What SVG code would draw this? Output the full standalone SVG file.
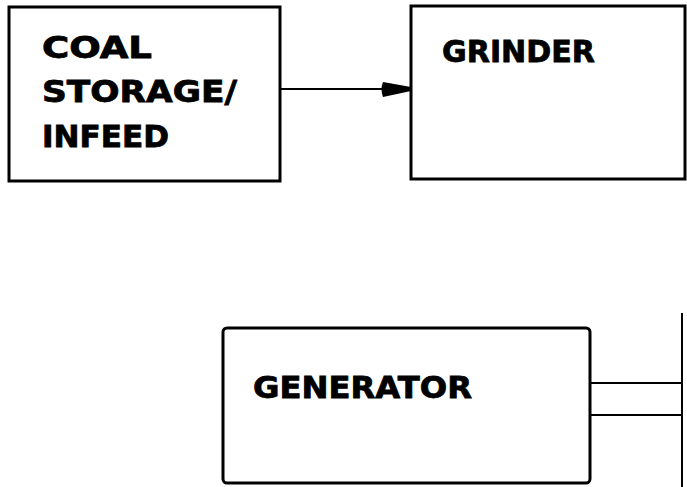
<svg xmlns="http://www.w3.org/2000/svg" width="687" height="487" viewBox="0 0 687 487">
<style>
.box{fill:#fff;stroke:#000;stroke-width:3}
.lbl{font-family:"DejaVu Sans","Liberation Sans",sans-serif;font-weight:bold;font-size:30px;fill:#000;stroke:#000;stroke-width:0.8}
.ln{stroke:#000;stroke-width:2;fill:none}
</style>
<rect width="687" height="487" fill="#fff"/>
<g id="coal">
<rect class="box" x="9" y="7" width="271" height="174"/>
<text class="lbl" x="42" y="58" textLength="110" lengthAdjust="spacingAndGlyphs">COAL</text>
<text class="lbl" x="42" y="102" textLength="195" lengthAdjust="spacingAndGlyphs">STORAGE/</text>
<text class="lbl" x="42" y="147" textLength="127" lengthAdjust="spacingAndGlyphs">INFEED</text>
</g>
<g id="grinder">
<rect class="box" x="411" y="6" width="274" height="173"/>
<text class="lbl" x="442" y="62" textLength="153" lengthAdjust="spacingAndGlyphs">GRINDER</text>
</g>
<g id="generator">
<rect class="box" x="223" y="328" width="367" height="155" rx="4"/>
<text class="lbl" x="253" y="398" textLength="219" lengthAdjust="spacingAndGlyphs">GENERATOR</text>
</g>
<g id="connectors">
<path class="ln" d="M280,89 L385,89"/>
<path d="M383,82 L411,87 L411,91 L383,97 Q380,89 383,82 Z" fill="#000"/>
<path class="ln" d="M590,383 L682,383"/>
<path class="ln" d="M590,415 L682,415"/>
<path class="ln" d="M682,313 L682,487" stroke-width="3"/>
</g>
</svg>
